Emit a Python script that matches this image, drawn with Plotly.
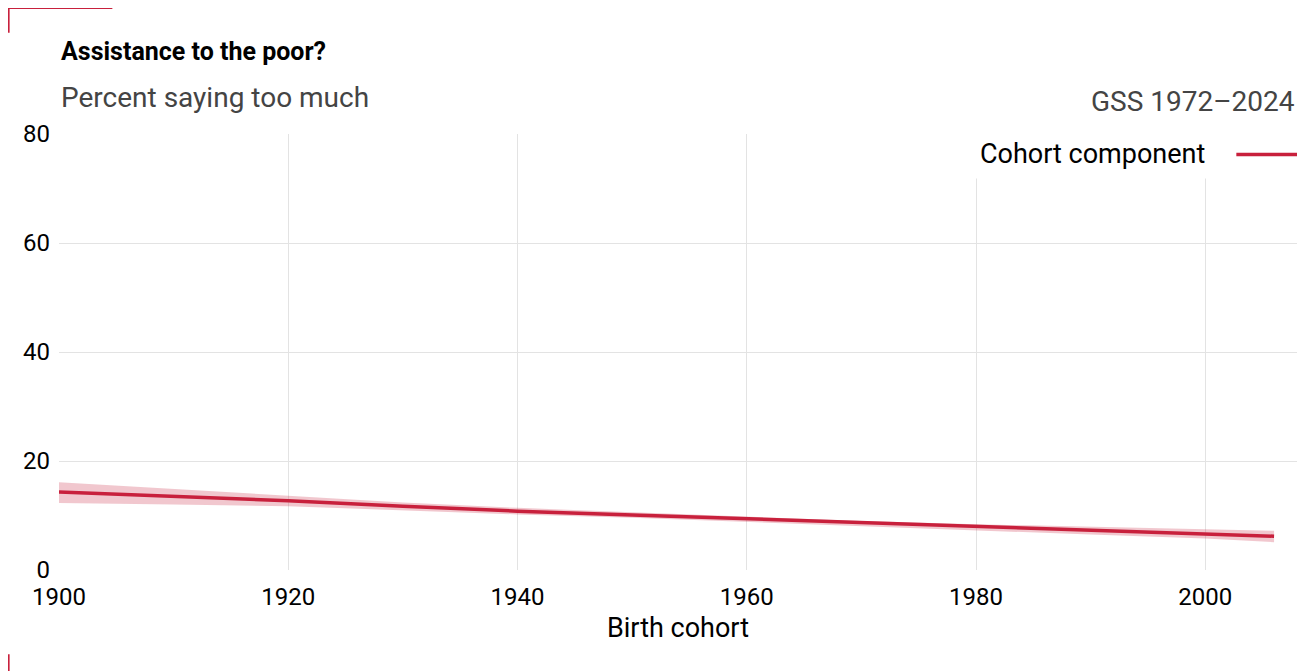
import plotly.graph_objects as go

# Cohort component estimates
years = [1900, 1910, 1920, 1930, 1940, 1950, 1960, 1970, 1980, 1990, 2000, 2006]
pct = [14.3, 13.5, 12.7, 11.7, 10.8, 10.1, 9.4, 8.6, 7.9, 7.2, 6.6, 6.2]
upper = [16.1, 14.9, 13.6, 12.4, 11.4, 10.6, 9.8, 9.0, 8.4, 7.9, 7.4, 7.2]
lower = [12.3, 12.0, 11.7, 11.0, 10.2, 9.6, 8.9, 8.1, 7.3, 6.5, 5.8, 5.1]

red = "#C8203C"
font = "Roboto"

fig = go.Figure()
fig.add_trace(go.Scatter(x=years + years[::-1], y=upper + lower[::-1], fill="toself",
                         fillcolor="rgba(200,32,60,0.25)", line=dict(width=0),
                         hoverinfo="skip", showlegend=False))
fig.add_trace(go.Scatter(x=years, y=pct, mode="lines", line=dict(color=red, width=3.5),
                         showlegend=False))

fig.update_layout(
    autosize=True, plot_bgcolor="white", paper_bgcolor="white",
    margin=dict(l=51, r=0, t=126, b=109),
    font=dict(family=font, size=24, color="black"),
    xaxis=dict(range=[1900, 2008], tickvals=[1900, 1920, 1940, 1960, 1980, 2000],
               showgrid=True, gridcolor="#e3e3e3", zeroline=False, ticks="",
               ticklabelstandoff=10,
               title=dict(text="Birth cohort", font=dict(size=27), standoff=8)),
    yaxis=dict(range=[0, 80], tickvals=[0, 20, 40, 60, 80], showgrid=True,
               gridcolor="#e3e3e3", zeroline=False, ticks="", ticklabelstandoff=8),
    annotations=[
        dict(text="<b>Assistance to the poor?</b>", xref="paper", yref="paper",
             x=0, y=1.19, xanchor="left", yanchor="middle", showarrow=False,
             font=dict(size=25, color="black")),
        dict(text="Percent saying too much", xref="paper", yref="paper",
             x=0, y=1.083, xanchor="left", yanchor="middle", showarrow=False,
             font=dict(size=28, color="#444")),
        dict(text="GSS 1972\u20132024", xref="paper", yref="paper",
             x=1, y=1.075, xanchor="right", yanchor="middle", showarrow=False,
             font=dict(size=28, color="#444")),
        dict(text="Cohort component", xref="paper", yref="paper",
             x=0.933, y=0.953, xanchor="right", yanchor="middle", showarrow=False,
             bgcolor="white", borderpad=8, font=dict(size=27, color="black")),
    ],
    shapes=[
        dict(type="rect", xref="paper", yref="paper", x0=0.73, x1=1, y0=0.9, y1=1.0,
             fillcolor="white", line=dict(width=0), layer="above"),
        dict(type="line", xref="paper", yref="paper", x0=0.951, x1=1, y0=0.953, y1=0.953,
             line=dict(color=red, width=3.5)),
        dict(type="line", xref="paper", yref="paper", x0=-0.0407, x1=0.0431, y0=1.289, y1=1.289,
             line=dict(color=red, width=2)),
        dict(type="line", xref="paper", yref="paper", x0=-0.0407, x1=-0.0407, y0=1.289, y1=1.232,
             line=dict(color=red, width=2)),
        dict(type="line", xref="paper", yref="paper", x0=-0.0407, x1=0.0431, y0=-0.25, y1=-0.25,
             line=dict(color=red, width=2)),
        dict(type="line", xref="paper", yref="paper", x0=-0.0407, x1=-0.0407, y0=-0.25, y1=-0.193,
             line=dict(color=red, width=2)),
    ],
)
fig.write_html("out.html", config={"responsive": True}, default_height="100vh",
               default_width="100%", full_html=True,
               include_plotlyjs=True)
